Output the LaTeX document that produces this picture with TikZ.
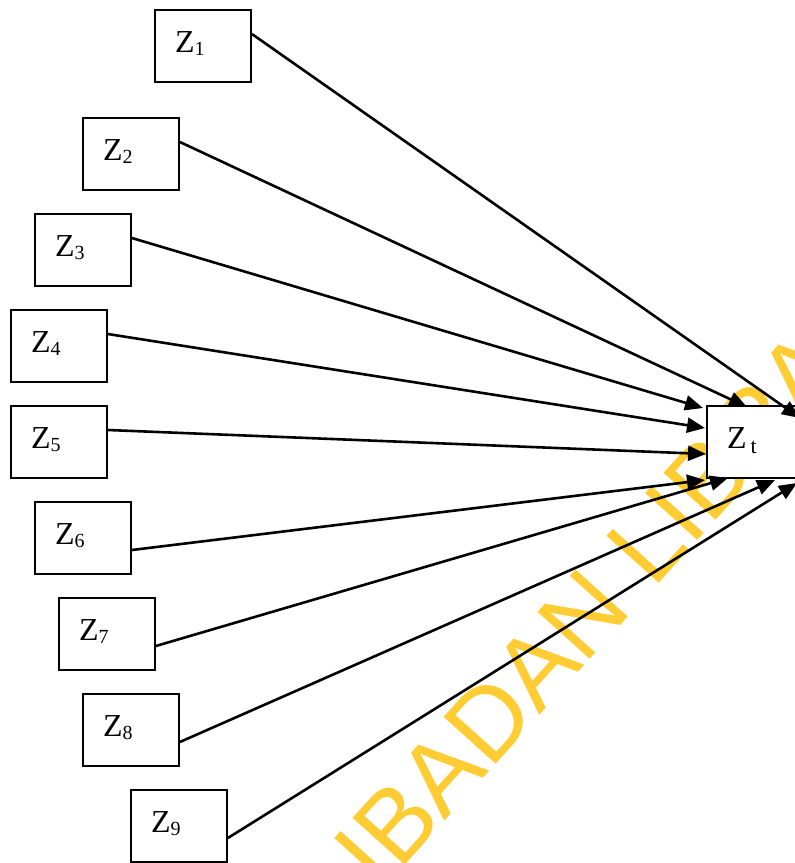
\documentclass[tikz,border=0pt]{standalone}
\usepackage{fontspec}
\setmainfont{Liberation Serif}
\newfontfamily\wmfont{Liberation Sans}
\usetikzlibrary{arrows.meta}
\definecolor{wmyellow}{RGB}{255,204,51}
\tikzset{
  zbox/.style={draw, line width=1.8pt, fill=white, minimum width=96pt, minimum height=72pt,
    inner sep=0pt, text height=24pt, text depth=12pt, font=\fontsize{32}{36}\selectfont},
  conn/.style={line width=2.6pt, -{Triangle[length=18pt,width=15pt]}},
  wmark/.style={text=wmyellow, font=\wmfont\fontsize{102}{102}\selectfont, inner sep=0pt, anchor=base west, rotate=48}
}
\newcommand{\zlab}[1]{\makebox[56pt][l]{Z\raisebox{-3.5pt}{\fontsize{20}{20}\selectfont #1}}}
\begin{document}
\begin{tikzpicture}[x=1pt,y=-1pt]
\useasboundingbox (0,0) rectangle (795,863);
\clip (0,0) rectangle (795,863);
\node[wmark] (wm) at (380,893) {IBADAN LIBRARY};
\node[zbox] (z1) at (203,46) {\zlab{1}};
\node[zbox] (z2) at (131,154) {\zlab{2}};
\node[zbox] (z3) at (83,250) {\zlab{3}};
\node[zbox] (z4) at (59,346) {\zlab{4}};
\node[zbox] (z5) at (59,442) {\zlab{5}};
\node[zbox] (z6) at (83,538) {\zlab{6}};
\node[zbox] (z7) at (107,634) {\zlab{7}};
\node[zbox] (z8) at (131,730) {\zlab{8}};
\node[zbox] (z9) at (179,826) {\zlab{9}};
\node[zbox] (zt) at (755,442) {\makebox[56pt][l]{Z\hspace{4pt}\raisebox{-5pt}{\fontsize{22}{22}\selectfont t}}};
\coordinate (t1) at ([shift={(45,-24)}]zt.center);
\coordinate (t2) at ([shift={(-8,-35)}]zt.center);
\coordinate (t3) at ([shift={(-52,-34)}]zt.center);
\coordinate (t4) at ([shift={(-50,-14)}]zt.center);
\coordinate (t5) at ([shift={(-49,12)}]zt.center);
\coordinate (t6) at ([shift={(-50,38)}]zt.center);
\coordinate (t7) at ([shift={(-27,36)}]zt.center);
\coordinate (t8) at ([shift={(20,38)}]zt.center);
\coordinate (t9) at ([shift={(42,41)}]zt.center);
\draw[conn] ([shift={(0,-12)}]z1.east) -- (t1);
\draw[conn] ([shift={(0,-12)}]z2.east) -- (t2);
\draw[conn] ([shift={(0,-12)}]z3.east) -- (t3);
\draw[conn] ([shift={(0,-12)}]z4.east) -- (t4);
\draw[conn] ([shift={(0,-12)}]z5.east) -- (t5);
\draw[conn] ([shift={(0,12)}]z6.east) -- (t6);
\draw[conn] ([shift={(0,12)}]z7.east) -- (t7);
\draw[conn] ([shift={(0,12)}]z8.east) -- (t8);
\draw[conn] ([shift={(0,12)}]z9.east) -- (t9);
\end{tikzpicture}
\end{document}
